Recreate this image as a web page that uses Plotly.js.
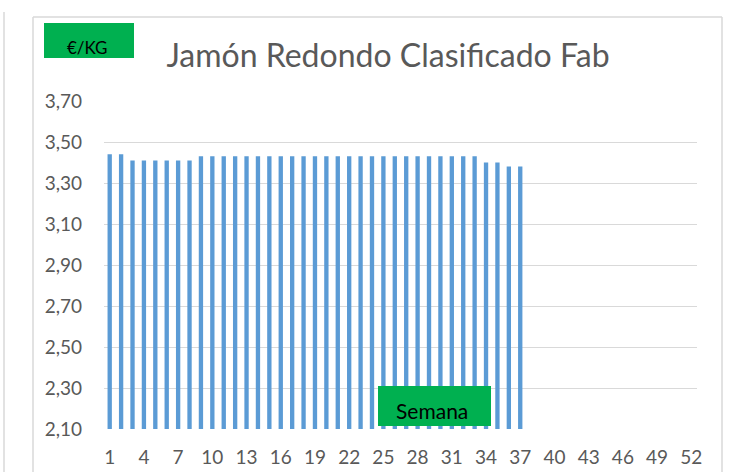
<!DOCTYPE html>
<html>
<head>
<meta charset="utf-8">
<script src="https://cdn.plot.ly/plotly-3.0.1.min.js"></script>
<style>
html,body{margin:0;padding:0;background:#fff;}
#chart{width:732px;height:472px;}
</style>
</head>
<body>
<div id="chart"></div>
<script>
const weeks = Array.from({length: 52}, (_, i) => i + 1);
const prices = [3.44, 3.44, 3.41, 3.41, 3.41, 3.41, 3.41, 3.41,
  3.43, 3.43, 3.43, 3.43, 3.43, 3.43, 3.43, 3.43, 3.43, 3.43, 3.43, 3.43,
  3.43, 3.43, 3.43, 3.43, 3.43, 3.43, 3.43, 3.43, 3.43, 3.43, 3.43, 3.43, 3.43,
  3.40, 3.40, 3.38, 3.38];
const tickWeeks = [1, 4, 7, 10, 13, 16, 19, 22, 25, 28, 31, 34, 37, 40, 43, 46, 49, 52];
const tickLabels = tickWeeks.map(String);
const chartTitle = 'Jamón Redondo Clasificado Fab';
const unitLabel = '€/KG';
const xLabel = 'Semana';

const L = 104, R = 697, T = 101, B = 429;
const px = v => (v - L) / (R - L);
const py = v => (B - v) / (B - T);

const yVals = weeks.map((w, i) => i < prices.length ? prices[i] : null);

const trace = {
  type: 'bar',
  x: weeks,
  y: yVals,
  marker: {color: '#5B9BD5'},
  hoverinfo: 'x+y'
};

const font = 'Lato, "Open Sans", sans-serif';
const layout = {
  width: 732, height: 472,
  margin: {l: L, r: 732 - R, t: T, b: 472 - B},
  paper_bgcolor: '#fff', plot_bgcolor: '#fff',
  separators: ',.',
  bargap: 0.62,
  showlegend: false,
  font: {family: font, color: '#595959', size: 19},
  title: {
    text: chartTitle,
    font: {family: font, size: 32, color: '#595959'},
    xref: 'paper', x: px(388), xanchor: 'center',
    yref: 'container', y: 1 - 56 / 472, yanchor: 'middle'
  },
  xaxis: {
    range: [0.5, 52.5],
    tickmode: 'array', tickvals: tickWeeks, ticktext: tickLabels,
    showgrid: false, zeroline: false, showline: false, ticks: '',
    ticklabelstandoff: 15,
    tickfont: {family: font, size: 19, color: '#595959'}
  },
  yaxis: {
    range: [2.10, 3.70],
    tick0: 2.10, dtick: 0.2, tickformat: '.2f',
    showgrid: true, gridcolor: '#D9D9D9', gridwidth: 1,
    zeroline: false, showline: false, ticks: '',
    ticklabelstandoff: 21,
    tickfont: {family: font, size: 19, color: '#595959'}
  },
  shapes: [
    {type: 'line', xref: 'paper', yref: 'paper', x0: px(33), x1: px(33), y0: py(17), y1: py(480), line: {color: '#D9D9D9', width: 1.5}},
    {type: 'line', xref: 'paper', yref: 'paper', x0: px(33), x1: px(722), y0: py(17), y1: py(17), line: {color: '#D9D9D9', width: 1.5}},
    {type: 'line', xref: 'paper', yref: 'paper', x0: px(722), x1: px(722), y0: py(17), y1: py(480), line: {color: '#D9D9D9', width: 1.5}},
    {type: 'line', xref: 'paper', yref: 'paper', x0: px(4), x1: px(4), y0: py(12), y1: py(480), line: {color: '#D9D9D9', width: 1.5}},
    {type: 'rect', xref: 'paper', yref: 'paper', x0: px(44), x1: px(134), y0: py(58), y1: py(23), fillcolor: '#00B050', line: {width: 0}},
    {type: 'rect', xref: 'paper', yref: 'paper', x0: px(378), x1: px(491), y0: py(426), y1: py(386), fillcolor: '#00B050', line: {width: 0}, layer: 'above'}
  ],
  annotations: [
    {text: unitLabel, xref: 'paper', yref: 'paper', x: px(87), y: py(47), xanchor: 'center', yanchor: 'middle', showarrow: false, font: {family: font, size: 17, color: '#000'}},
    {text: xLabel, xref: 'paper', yref: 'paper', x: px(432), y: py(410), xanchor: 'center', yanchor: 'middle', showarrow: false, font: {family: font, size: 21, color: '#000'}}
  ]
};

Plotly.newPlot('chart', [trace], layout, {displayModeBar: false, staticPlot: true});
</script>
</body>
</html>
